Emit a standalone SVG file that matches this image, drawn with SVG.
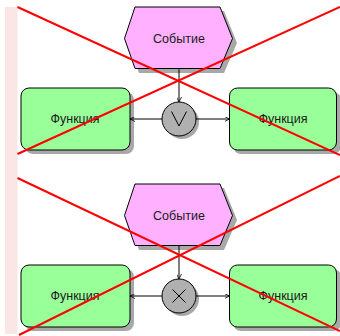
<svg xmlns="http://www.w3.org/2000/svg" width="340" height="336" viewBox="0 0 340 336">
  <style>
    .ev{fill:#ffb0ff;stroke:#000;stroke-width:1}
    .fn{fill:#99ff99;stroke:#000;stroke-width:1}
    .gw{fill:#b0b0b0;stroke:#000;stroke-width:1}
    .sh{fill:#a8a8a8;stroke:none}
    .lbl{font-family:"Liberation Sans",Arial,sans-serif;font-size:12.5px;fill:#1a1a1a;text-anchor:middle;dominant-baseline:central}
    .con{stroke:#000;stroke-width:1;fill:none}
    .sym{stroke:#000;stroke-width:1;fill:none}
    .cross{stroke:#ff0000;stroke-width:2;fill:none}
  </style>
  <defs>
    <marker id="arr" viewBox="0 0 10 10" refX="10" refY="5" markerWidth="5" markerHeight="5" orient="auto" markerUnits="userSpaceOnUse">
      <path d="M0,0 L10,5 L0,10" fill="none" stroke="#000" stroke-width="1.6"/>
    </marker>
  </defs>
  <rect x="5" y="7" width="12.5" height="327" fill="#fbe6e6"/>

  <!-- top section -->
  <g id="event1">
    <polygon class="sh" points="139,11 224,11 237,43 224,73 139,73 128,43"/>
    <polygon class="ev" points="135,7 220,7 232.5,38.5 220,68.5 135,68.5 124.5,38.5"/>
    <text class="lbl" x="179" y="39">Событие</text>
  </g>
  <g id="func1">
    <rect class="sh" x="25" y="92" width="109" height="62" rx="8"/>
    <rect class="fn" x="21" y="88" width="109" height="62" rx="8"/>
    <text class="lbl" x="75" y="119">Функция</text>
  </g>
  <g id="func2">
    <rect class="sh" x="233" y="92" width="108" height="62" rx="8"/>
    <rect class="fn" x="229.5" y="88" width="107" height="62" rx="8"/>
    <text class="lbl" x="283" y="119">Функция</text>
  </g>
  <g id="or1">
    <circle class="sh" cx="182" cy="122" r="17"/>
    <circle class="gw" cx="179" cy="119" r="17"/>
    <path class="sym" d="M171.5,111.5 L179,126 L186.5,111.5"/>
  </g>

  <!-- bottom section -->
  <g id="event2">
    <polygon class="sh" points="139,188 224,188 237,220 224,250 139,250 128,220"/>
    <polygon class="ev" points="135,184 220,184 232.5,215.5 220,245.5 135,245.5 124.5,215.5"/>
    <text class="lbl" x="179" y="216">Событие</text>
  </g>
  <g id="func3">
    <rect class="sh" x="25" y="269" width="109" height="62" rx="8"/>
    <rect class="fn" x="21" y="265" width="109" height="62" rx="8"/>
    <text class="lbl" x="75" y="296">Функция</text>
  </g>
  <g id="func4">
    <rect class="sh" x="233" y="269" width="108" height="62" rx="8"/>
    <rect class="fn" x="229.5" y="265" width="107" height="62" rx="8"/>
    <text class="lbl" x="283" y="296">Функция</text>
  </g>
  <g id="xor1">
    <circle class="sh" cx="182" cy="299" r="17"/>
    <circle class="gw" cx="179" cy="296" r="17"/>
    <path class="sym" d="M172.5,289.5 L185.5,302.5 M185.5,289.5 L172.5,302.5"/>
  </g>

  <g id="connectors">
    <line class="con" x1="179" y1="68.5" x2="179" y2="102" marker-end="url(#arr)"/>
    <line class="con" x1="162" y1="119" x2="130" y2="119" marker-end="url(#arr)"/>
    <line class="con" x1="196" y1="119" x2="229.5" y2="119" marker-end="url(#arr)"/>
    <line class="con" x1="179" y1="245.5" x2="179" y2="279" marker-end="url(#arr)"/>
    <line class="con" x1="162" y1="296" x2="130" y2="296" marker-end="url(#arr)"/>
    <line class="con" x1="196" y1="296" x2="229.5" y2="296" marker-end="url(#arr)"/>
  </g>

  <g id="crosses">
    <line class="cross" x1="17.5" y1="7" x2="340" y2="155"/>
    <line class="cross" x1="17.5" y1="154" x2="340" y2="7"/>
    <line class="cross" x1="17.5" y1="178" x2="340" y2="331"/>
    <line class="cross" x1="19" y1="335" x2="340" y2="176"/>
  </g>
</svg>
